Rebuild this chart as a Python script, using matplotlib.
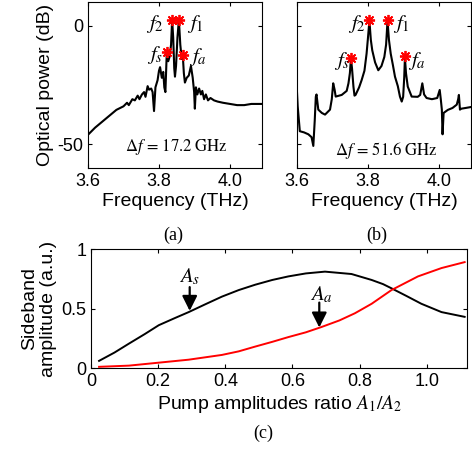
import matplotlib
matplotlib.use("Agg")
import matplotlib.pyplot as plt

plt.rcParams['font.family'] = ['Liberation Sans', 'DejaVu Sans']
plt.rcParams['mathtext.fontset'] = 'stix'

# panel (a): spectrum, delta f = 17.2 GHz
freq_a = [3.600, 3.620, 3.640, 3.660, 3.680, 3.700, 3.710, 3.715, 3.725, 3.732,
          3.740, 3.745, 3.752, 3.758, 3.762, 3.768, 3.772, 3.778, 3.782, 3.786,
          3.790, 3.796, 3.800, 3.803, 3.808, 3.812, 3.815, 3.818, 3.822, 3.826,
          3.830, 3.834, 3.837, 3.840, 3.843, 3.845, 3.848, 3.852, 3.856, 3.860,
          3.864, 3.867, 3.870, 3.873, 3.878, 3.884, 3.890, 3.895, 3.899, 3.901,
          3.904, 3.908, 3.913, 3.918, 3.922, 3.927, 3.932, 3.938, 3.945, 3.955,
          3.965, 3.980, 4.000, 4.020, 4.040, 4.060, 4.090]
power_a = [-46, -43, -40.5, -38, -35.5, -34, -32.5, -33.5, -31, -31.5,
           -29.5, -31, -29, -28, -30, -25.5, -27, -26.5, -28, -36,
           -26, -23, -19, -17.5, -22, -19.5, -26, -28, -11, -15,
           -13, -8, 2.5, -5, -18, -21.5, -17, -5, 2.5, -8,
           -14, -12.5, -20, -24, -22, -21, -17, -22, -28, -35,
           -26, -29, -26.5, -29, -27.5, -31, -29, -31.5, -30.5, -31.5,
           -32, -32.5, -33, -33.5, -33.5, -33, -33]
mark_f_a = [3.822, 3.837, 3.856, 3.867]
mark_p_a = [-11, 2.5, 2.5, -12.5]

# panel (b): spectrum, delta f = 51.6 GHz
freq_b = [3.600, 3.602, 3.608, 3.620, 3.632, 3.641, 3.646, 3.650, 3.653, 3.655,
          3.660, 3.670, 3.679, 3.693, 3.698, 3.702, 3.706, 3.709, 3.726, 3.740,
          3.745, 3.749, 3.752, 3.755, 3.759, 3.762, 3.765, 3.775, 3.782, 3.790,
          3.796, 3.800, 3.804, 3.808, 3.812, 3.820, 3.829, 3.838, 3.846, 3.851,
          3.855, 3.859, 3.864, 3.870, 3.876, 3.884, 3.890, 3.895, 3.899, 3.902,
          3.904, 3.907, 3.912, 3.923, 3.940, 3.947, 3.953, 3.958, 3.965, 3.980,
          3.995, 4.002, 4.005, 4.008, 4.010, 4.013, 4.025, 4.038, 4.050, 4.054,
          4.056, 4.059, 4.063, 4.075, 4.090]
power_b = [-28, -34, -44.5, -45, -45.8, -47, -50.7, -40, -30, -29,
           -35.4, -36.8, -37.5, -35.4, -31, -24.3, -27, -29.9, -29.2, -27.5,
           -24.3, -20, -13.9, -18, -25.7, -29.5, -29.2, -26, -23, -19,
           -11.8, -5, 2.1, -6, -10.4, -15.5, -18.8, -17, -13.2, -8,
           2.1, -6, -11.8, -16.5, -21.5, -25.5, -29.9, -32, -30, -22,
           -13.5, -20, -25.7, -29.9, -30, -29.2, -24.3, -29, -30.5, -31,
           -30.5, -27.1, -31, -35.4, -45.8, -36.8, -35.5, -34.7, -33.3, -31,
           -29.2, -35.4, -35, -34.7, -34.3]
mark_f_b = [3.752, 3.804, 3.855, 3.904]
mark_p_b = [-13.5, 2.5, 2.5, -13.0]

# panel (c): sideband amplitudes vs pump ratio
ratio_s = [0.024, 0.07, 0.113, 0.16, 0.202, 0.25, 0.291, 0.34, 0.390, 0.44,
           0.489, 0.54, 0.588, 0.64, 0.697, 0.776, 0.836, 0.87, 0.895, 0.94,
           0.984, 1.044, 1.113]
amp_s = [0.06, 0.13, 0.205, 0.285, 0.36, 0.42, 0.47, 0.535, 0.60, 0.655,
         0.70, 0.74, 0.77, 0.795, 0.81, 0.79, 0.74, 0.705, 0.67, 0.605,
         0.54, 0.47, 0.43]
ratio_a = [0.024, 0.113, 0.202, 0.291, 0.390, 0.44, 0.489, 0.54, 0.588, 0.64,
           0.687, 0.74, 0.786, 0.836, 0.895, 0.974, 1.044, 1.113]
amp_a = [0.01, 0.02, 0.045, 0.07, 0.11, 0.14, 0.18, 0.22, 0.26, 0.30,
         0.345, 0.40, 0.46, 0.54, 0.655, 0.77, 0.84, 0.89]

fig = plt.figure(figsize=(4.72, 4.5), dpi=100)

ax_a = fig.add_axes([0.1864, 0.6267, 0.3686, 0.369])
ax_b = fig.add_axes([0.6292, 0.6267, 0.3686, 0.369])
ax_c = fig.add_axes([0.1928, 0.1822, 0.7966, 0.2644])

mt = dict(fontsize=15, ha='center', va='center')

for ax, f, p, mf, mp in [(ax_a, freq_a, power_a, mark_f_a, mark_p_a),
                         (ax_b, freq_b, power_b, mark_f_b, mark_p_b)]:
    ax.plot(f, p, color='black', lw=1.5)
    ax.plot(mf, mp, ls='none', marker=(8, 2, 0), ms=8, mew=1.3, color='red')
    ax.set_xlim(3.6, 4.09)
    ax.set_ylim(-60, 10)
    ax.set_xticks([3.6, 3.8, 4.0])
    ax.set_xticklabels(['3.6', '3.8', '4.0'])
    ax.set_yticks([-50, 0])
    ax.tick_params(direction='in', top=True, right=True, length=3,
                   labelsize=13, width=0.8)
    ax.set_xlabel('Frequency (THz)', fontsize=14, labelpad=2)

ax_a.set_yticklabels(['-50', '0'])
ax_a.set_ylabel('Optical power (dB)', fontsize=14, labelpad=2)
ax_b.set_yticklabels([])

ax_a.text(3.789, 0.8, r'$f_2$', **mt)
ax_a.text(3.901, 0.8, r'$f_1$', **mt)
ax_a.text(3.789, -12.5, r'$f_s$', **mt)
ax_a.text(3.910, -13.3, r'$f_a$', **mt)
ax_a.text(3.85, -51, r'$\Delta f\,=\,17.2\ \mathrm{GHz}$', fontsize=12,
          ha='center', va='center')

ax_b.text(3.768, 0.8, r'$f_2$', **mt)
ax_b.text(3.893, 0.8, r'$f_1$', **mt)
ax_b.text(3.726, -15, r'$f_s$', **mt)
ax_b.text(3.937, -15, r'$f_a$', **mt)
ax_b.text(3.853, -52.5, r'$\Delta f\,=\,51.6\ \mathrm{GHz}$', fontsize=12,
          ha='center', va='center')

ax_c.plot(ratio_s, amp_s, color='black', lw=1.4)
ax_c.plot(ratio_a, amp_a, color='red', lw=1.4)
ax_c.set_xlim(0, 1.12)
ax_c.set_ylim(0, 1)
ax_c.set_xticks([0, 0.2, 0.4, 0.6, 0.8, 1.0])
ax_c.set_xticklabels(['0', '0.2', '0.4', '0.6', '0.8', '1.0'])
ax_c.set_yticks([0, 0.5, 1])
ax_c.set_yticklabels(['0', '0.5', '1'])
ax_c.tick_params(direction='in', top=True, right=True, length=3,
                 labelsize=13, width=0.8)
ax_c.set_xlabel(r'Pump amplitudes ratio $A_1/A_2$', fontsize=14, labelpad=2)
ax_c.set_ylabel('Sideband\namplitude (a.u.)', fontsize=14, labelpad=3,
                linespacing=1.15)

arrow = dict(arrowstyle='-|>,head_width=0.45,head_length=0.9', color='black',
             lw=1.6, shrinkA=0, shrinkB=0)
ax_c.annotate('', xy=(0.294, 0.48), xytext=(0.294, 0.68), arrowprops=arrow)
ax_c.annotate('', xy=(0.68, 0.34), xytext=(0.68, 0.55), arrowprops=arrow)
ax_c.text(0.294, 0.77, r'$A_s$', **mt)
ax_c.text(0.685, 0.62, r'$A_a$', **mt)

fig.text(0.3665, 0.478, '(a)', fontsize=13, family='Liberation Serif',
         ha='center', va='center')
fig.text(0.799, 0.478, '(b)', fontsize=13, family='Liberation Serif',
         ha='center', va='center')
fig.text(0.557, 0.038, '(c)', fontsize=13, family='Liberation Serif',
         ha='center', va='center')

fig.savefig('out.png', dpi=100)
